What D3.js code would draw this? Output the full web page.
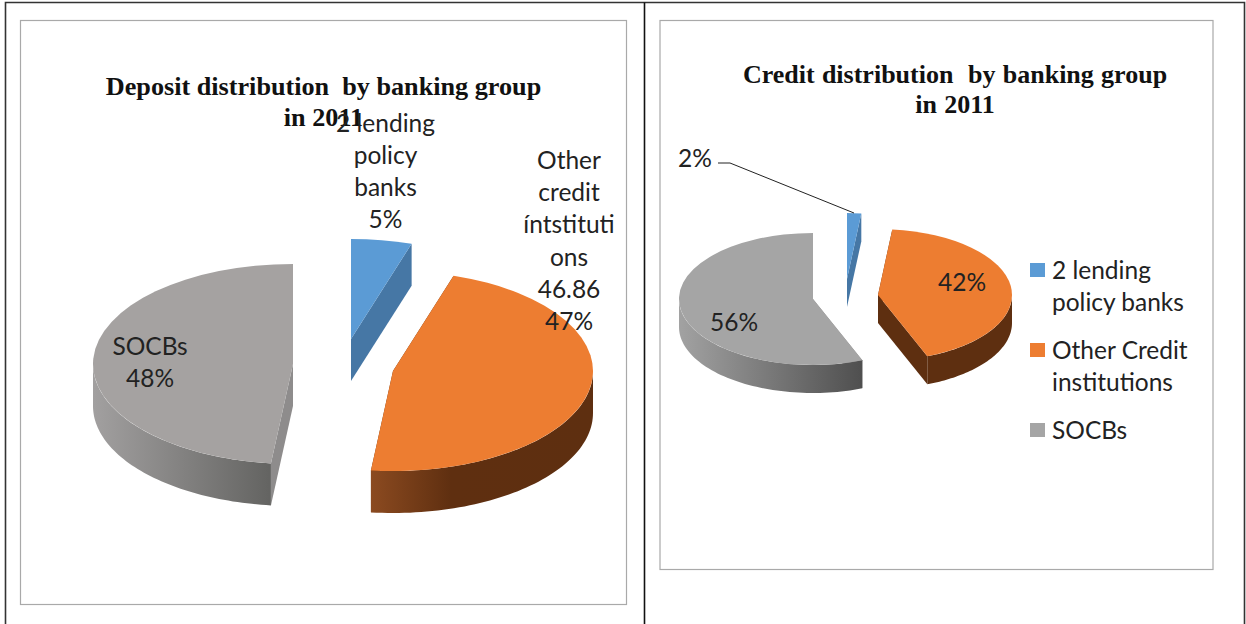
<!DOCTYPE html>
<html>
<head>
<meta charset="utf-8">
<script src="https://cdn.jsdelivr.net/npm/d3@7"></script>
<style>
html,body{margin:0;padding:0;background:#fff;overflow:hidden}
svg{display:block}
.title{font-family:"Liberation Serif",serif;font-weight:bold;fill:#111;text-anchor:middle}
.lab{font-family:Lato,"Open Sans",sans-serif;fill:#222;text-anchor:middle;font-size:24.5px}
.leg{font-family:Lato,"Open Sans",sans-serif;fill:#222;font-size:24.5px}
</style>
</head>
<body>
<svg id="c" width="1246" height="624"></svg>
<script>
// ---- data ----
const depositCategories = ["2 lending policy banks", "Other credit institutions", "SOCBs"];
const depositValues = [4.9, 46.86, 48.24];
const creditCategories = ["2 lending policy banks", "Other Credit institutions", "SOCBs"];
const creditValues = [1.7, 42.3, 56];
const depositTitle = ["Deposit distribution  by banking group", "in 2011"];
const creditTitle = ["Credit distribution  by banking group", "in 2011"];
const depositLabels = [
  ["2 lending", "policy", "banks", "5%"],
  ["Other", "credit", "íntstituti", "ons", "46.86", "47%"],
  ["SOCBs", "48%"]
];
const creditLabels = [["2%"], ["42%"], ["56%"]];
const legendLines = [["2 lending", "policy banks"], ["Other Credit", "institutions"], ["SOCBs"]];

// ---- styling / layout ----
const topColors = ["#5b9bd5", "#ed7d31", "#a5a2a1"];
const cutColors = ["#4677a5", "#5e2f10", "#8e8c8c"];
const svg = d3.select("#c");
const defs = svg.append("defs");

function grad(id, x1, x2, stops) {
  const g = defs.append("linearGradient").attr("id", id)
    .attr("gradientUnits", "userSpaceOnUse")
    .attr("x1", x1).attr("x2", x2).attr("y1", 0).attr("y2", 0);
  stops.forEach(s => g.append("stop").attr("offset", s[0]).attr("stop-color", s[1]));
  return "url(#" + id + ")";
}

const pie = d3.pie().sort(null).value(d => d);
const arc100 = d3.arc().innerRadius(0).outerRadius(100);

function drawPie(cfg) {
  const g = svg.append("g");
  const sx = d3.scaleLinear().domain([-1, 1]).range([-cfg.rx, cfg.rx]);
  const sy = d3.scaleLinear().domain([-1, 1]).range([-cfg.ry, cfg.ry]);
  const slices = pie(cfg.values);
  const line = d3.line();
  const pt = (c, a, dz) => [c[0] + sx(Math.sin(a)), c[1] - sy(Math.cos(a)) + dz];

  slices.forEach((d, i) => {
    const c = [cfg.cx + cfg.explode[i][0], cfg.cy + cfg.explode[i][1]];
    const z = cfg.depth;
    // cut faces
    [d.startAngle, d.endAngle].forEach(a => {
      const p = pt(c, a, 0), q = pt(c, a, z);
      g.append("path")
        .attr("d", line([c, p, q, [c[0], c[1] + z]]) + "Z")
        .attr("fill", cutColors[i]);
    });
    // outer wall: the front half of the rim only
    const a0 = Math.max(d.startAngle, Math.PI / 2), a1 = Math.min(d.endAngle, 3 * Math.PI / 2);
    if (a1 > a0) {
      const as = d3.range(0, 61).map(k => a0 + (a1 - a0) * k / 60);
      const pts = as.map(a => pt(c, a, 0)).concat(as.slice().reverse().map(a => pt(c, a, z)));
      g.append("path").attr("d", line(pts) + "Z").attr("fill", cfg.wallFill[i]);
    }
    // top face
    g.append("path")
      .attr("d", arc100(d))
      .attr("transform", `translate(${c[0]},${c[1]}) scale(${cfg.rx / 100},${cfg.ry / 100})`)
      .attr("fill", cfg.topFill[i]);
  });
}

// frames
svg.append("path").attr("d", "M5.5,624V2.5H1244.5V624").attr("fill", "none").attr("stroke", "#333").attr("stroke-width", 1.6);
svg.append("path").attr("d", "M644.5,2.5V624").attr("fill", "none").attr("stroke", "#111").attr("stroke-width", 1.6);
svg.append("rect").attr("x", 20.5).attr("y", 20.5).attr("width", 606).attr("height", 584)
  .attr("fill", "#fff").attr("stroke", "#a9a9a9").attr("stroke-width", 1.2);
svg.append("rect").attr("x", 660).attr("y", 20.5).attr("width", 553).attr("height", 549)
  .attr("fill", "#fff").attr("stroke", "#a9a9a9").attr("stroke-width", 1.2);

// left pie
drawPie({
  values: depositValues, cx: 343, cy: 364, rx: 200, ry: 100, depth: 42,
  explode: [[8, -25], [50, 7], [-50, 0]],
  topFill: topColors,
  wallFill: ["#4677a5",
    grad("wo1", 371, 594, [[0, "#8b4a20"], [0.36, "#5f2f10"], [1, "#5e2f10"]]),
    grad("wg1", 93, 272, [[0, "#a2a0a0"], [1, "#636361"]])]
});
// right pie
drawPie({
  values: creditValues, cx: 845, cy: 298, rx: 134, ry: 66, depth: 28,
  explode: [[2, -19], [33, -3], [-32, 1]],
  topFill: ["#5b9bd5", "#ed7d31", "#a5a5a5"],
  wallFill: ["#4677a5", "#5e2f10", grad("wg2", 679, 862, [[0, "#a2a2a2"], [1, "#4f4f4f"]])]
});

// titles
function title(lines, cx, ys, fs, ls, ws) {
  svg.selectAll(null).data(lines).join("text").attr("class", "title")
    .attr("x", cx).attr("y", (d, i) => ys[i]).attr("font-size", fs)
    .attr("letter-spacing", ls).attr("word-spacing", ws)
    .style("white-space", "pre").text(d => d);
}
title(depositTitle, 323.5, [95, 126], 26.2, 0, 0);
title(creditTitle, 955, [83, 113], 26, 0, 0.8);

// data labels
function labels(lines, cx, y0, lh) {
  svg.selectAll(null).data(lines).join("text").attr("class", "lab")
    .attr("x", cx).attr("y", (d, i) => y0 + i * lh).text(d => d);
}
labels(depositLabels[0], 385.5, 132, 32);
labels(depositLabels[1], 569, 169, 32.2);
labels(depositLabels[2], 150, 355, 32);
labels(creditLabels[0], 695, 167, 0);
labels(creditLabels[1], 962, 291, 0);
labels(creditLabels[2], 734, 331, 0);

// leader line
svg.append("path").attr("d", d3.line()([[718, 163], [730, 163], [854, 213]]))
  .attr("fill", "none").attr("stroke", "#222").attr("stroke-width", 1);

// legend
const legY = [263, 343, 423];
const legTextY = [279, 359, 439];
creditCategories.forEach((name, i) => {
  svg.append("rect").attr("x", 1030).attr("y", legY[i]).attr("width", 15).attr("height", 14)
    .attr("fill", ["#5b9bd5", "#ed7d31", "#a5a5a5"][i]);
  legendLines[i].forEach((t, j) => {
    svg.append("text").attr("class", "leg").attr("x", 1052).attr("y", legTextY[i] + j * 32).text(t);
  });
});
</script>
</body>
</html>
